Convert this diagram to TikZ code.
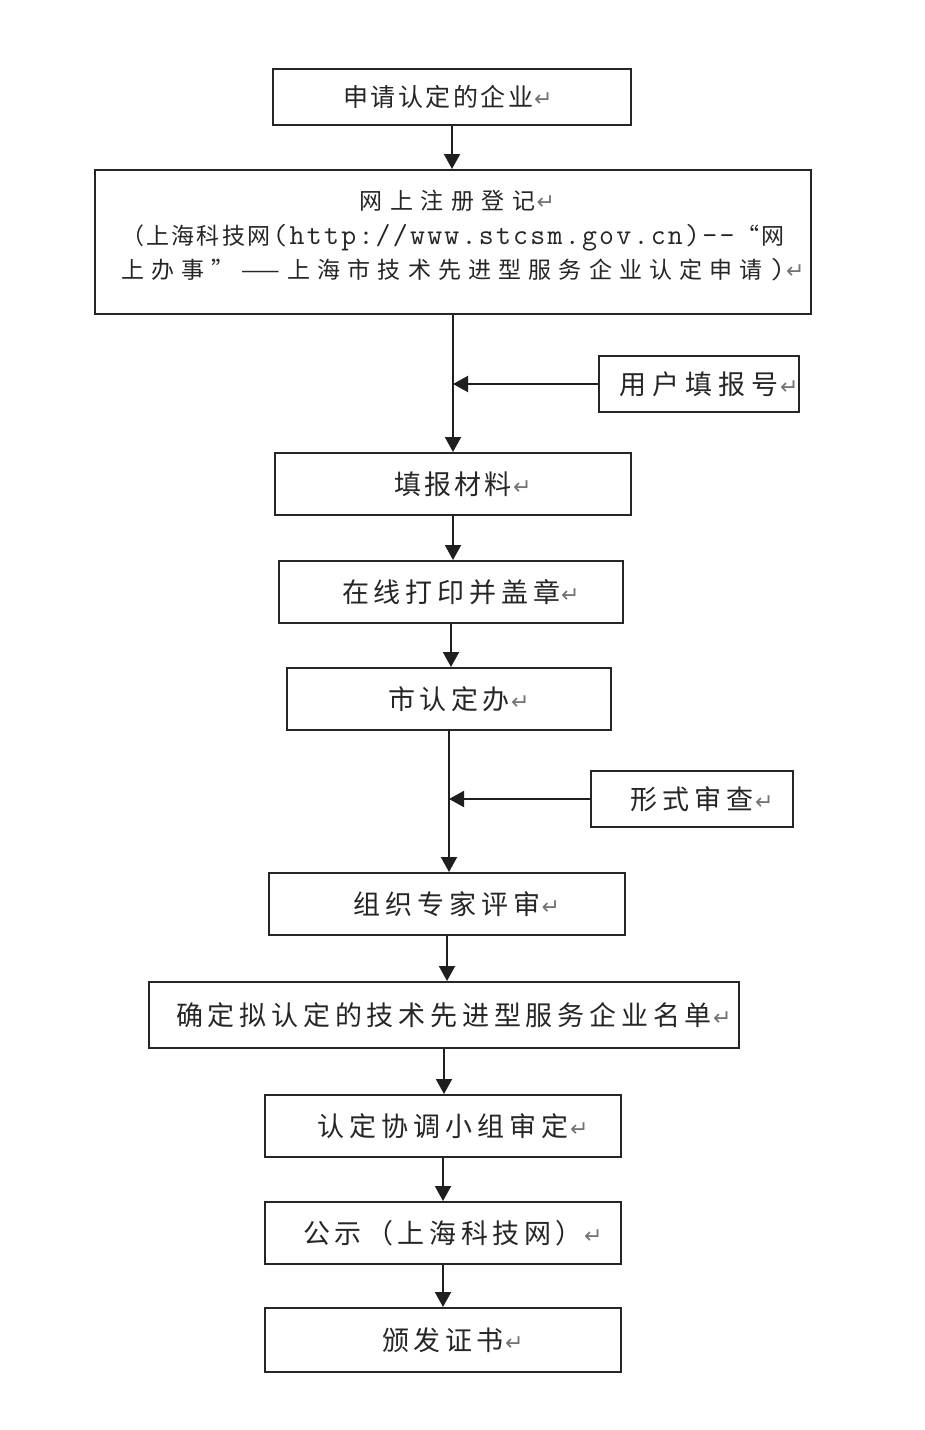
\documentclass[tikz,border=0pt]{standalone}
\usepackage{fontspec}
\setmainfont{Noto Sans CJK SC}
\newfontfamily\dejavu{DejaVu Sans}
\usetikzlibrary{arrows.meta}
\makeatletter
\let\LAT\relax
\let\CJK\relax
\def\LATmark{\LAT}
\def\CJKmark{\CJK}
\newcommand\latsize{\fontsize{29}{34.5}\selectfont}
% spread the characters of #2 evenly over a width #1
\newcommand\spr[2]{\makebox[#1][s]{\let\sprsep\relax\@tfor\nx:=#2\do{\ifx\nx\LATmark\ttfamily\latsize\else\ifx\nx\CJKmark\rmfamily\fontsize{23}{34.5}\selectfont\else\sprsep\nx\let\sprsep\hfil\fi\fi}}}
\makeatother
\newcommand\retmark{\rlap{\kern1pt{\dejavu\fontsize{22}{22}\selectfont\color{black!55}↵}}}
\begin{document}
\begin{tikzpicture}[x=1pt,y=-1pt,
  box/.style={draw=black!85, line width=2pt, fill=white, inner sep=0pt,
    text=black!85, font=\fontsize{27}{30}\selectfont},
  arr/.style={line width=2pt, draw=black!88, -{Triangle[length=15pt,width=16pt]}}]
\useasboundingbox[fill=white] (0,0) rectangle (924,1430);

\node[box, minimum width=358pt, minimum height=56pt, font=\fontsize{25}{30}\selectfont] (b1) at (452,97)
  {\spr{190pt}{申请认定的企业}\retmark\hspace*{28pt}};
\node[box, minimum width=716pt, minimum height=144pt, align=center,
  font=\fontsize{23}{34.5}\selectfont] (b2) at (453,242)
  {\spr{176pt}{网上注册登记}\retmark\hspace*{11pt}\\
   \spr{664pt}{（上海科技网\LAT(http://www.stcsm.gov.cn)--\CJK“网}\\
   \spr{664pt}{上办事”{——}上海市技术先进型服务企业认定申请\LAT)}\retmark\rule[-15pt]{0pt}{1pt}};
\node[box, minimum width=200pt, minimum height=56pt] (b3) at (699,384)
  {\spr{160pt}{用户填报号}\retmark};
\node[box, minimum width=356pt, minimum height=62pt] (b4) at (453,484)
  {\spr{118pt}{填报材料}\retmark};
\node[box, minimum width=344pt, minimum height=62pt] (b5) at (451,592)
  {\spr{218pt}{在线打印并盖章}\retmark};
\node[box, minimum width=324pt, minimum height=62pt] (b6) at (449,699)
  {\spr{122pt}{市认定办}\retmark};
\node[box, minimum width=202pt, minimum height=56pt] (b7) at (692,799)
  {\spr{124pt}{形式审查}\retmark};
\node[box, minimum width=356pt, minimum height=62pt] (b8) at (447,904)
  {\spr{187pt}{组织专家评审}\retmark};
\node[box, minimum width=590pt, minimum height=66pt] (b9) at (444,1015)
  {\spr{536pt}{确定拟认定的技术先进型服务企业名单}\retmark};
\node[box, minimum width=356pt, minimum height=62pt] (b10) at (443,1126)
  {\spr{252pt}{认定协调小组审定}\retmark};
\node[box, minimum width=356pt, minimum height=62pt] (b11) at (443,1233)
  {\spr{280pt}{公示（上海科技网）}\retmark};
\node[box, minimum width=356pt, minimum height=64pt] (b12) at (443,1340)
  {\spr{122pt}{颁发证书}\retmark};

\draw[arr] (b1.south) -- (b1.south |- b2.north);
\draw[arr] (b2.south) -- (b2.south |- b4.north);
\draw[arr] (b3.west) -- (b2.south |- b3.west);
\draw[arr] (b4.south) -- (b4.south |- b5.north);
\draw[arr] (b5.south) -- (b5.south |- b6.north);
\draw[arr] (b6.south) -- (b6.south |- b8.north);
\draw[arr] (b7.west) -- (b6.south |- b7.west);
\draw[arr] (b8.south) -- (b8.south |- b9.north);
\draw[arr] (b9.south) -- (b9.south |- b10.north);
\draw[arr] (b10.south) -- (b10.south |- b11.north);
\draw[arr] (b11.south) -- (b11.south |- b12.north);
\end{tikzpicture}
\end{document}
